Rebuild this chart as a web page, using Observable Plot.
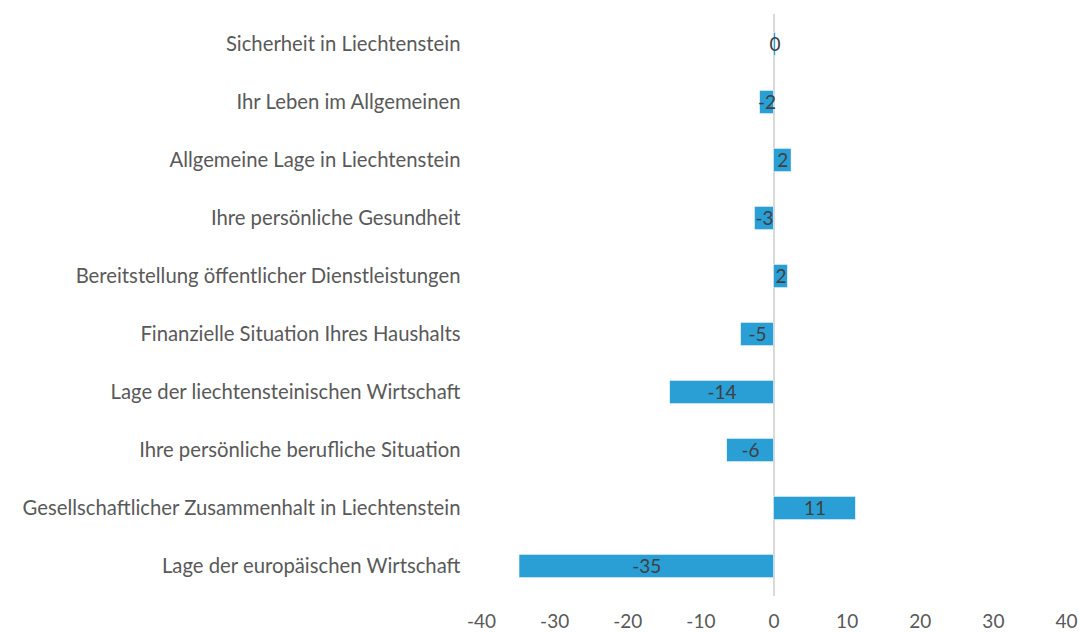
<!DOCTYPE html>
<html>
<head>
<meta charset="utf-8">
<script src="https://cdn.jsdelivr.net/npm/d3@7"></script>
<script src="https://cdn.jsdelivr.net/npm/@observablehq/plot@0.6"></script>
<style>
  html, body { margin: 0; padding: 0; background: #fff; }
  #chart { width: 1081px; height: 632px; }
</style>
</head>
<body>
<div id="chart"></div>
<script>
const categories = [
  "Sicherheit in Liechtenstein",
  "Ihr Leben im Allgemeinen",
  "Allgemeine Lage in Liechtenstein",
  "Ihre persönliche Gesundheit",
  "Bereitstellung öffentlicher Dienstleistungen",
  "Finanzielle Situation Ihres Haushalts",
  "Lage der liechtensteinischen Wirtschaft",
  "Ihre persönliche berufliche Situation",
  "Gesellschaftlicher Zusammenhalt in Liechtenstein",
  "Lage der europäischen Wirtschaft"
];
const values = [0.25, -1.9, 2.4, -2.6, 1.9, -4.5, -14.2, -6.4, 11.2, -34.8];
const valueLabels = ["0", "-2", "2", "-3", "2", "-5", "-14", "-6", "11", "-35"];
const xTicks = [-40, -30, -20, -10, 0, 10, 20, 30, 40];

const data = categories.map((c, i) => ({category: c, value: values[i], label: valueLabels[i]}));

const chart = Plot.plot({
  width: 1081,
  height: 632,
  marginLeft: 481,
  marginRight: 15,
  marginTop: 14,
  marginBottom: 36,
  style: {fontFamily: "Lato, sans-serif", fontSize: "19px", color: "#595959", background: "#fff"},
  x: {domain: [-40, 40], label: null},
  y: {domain: categories, padding: 0, label: null},
  marks: [
    Plot.axisX({ticks: xTicks, tickSize: 0, tickPadding: 18, label: null, tickFormat: d => String(d), fontSize: 19}),
    Plot.axisY({tickSize: 0, tickPadding: 21, label: null, fontSize: 20.3}),
    Plot.ruleX([0], {stroke: "#d9d9d9", strokeWidth: 2}),
    Plot.barX(data, {x: "value", y: "category", fill: "#299fd5", stroke: "#fff", strokeWidth: 0.5, insetTop: 17.4, insetBottom: 17.4}),
    Plot.text(data, {x: d => d.value / 2, y: "category", text: "label", fill: "#404040", fontSize: 19})
  ]
});
document.getElementById("chart").appendChild(chart);
</script>
</body>
</html>
